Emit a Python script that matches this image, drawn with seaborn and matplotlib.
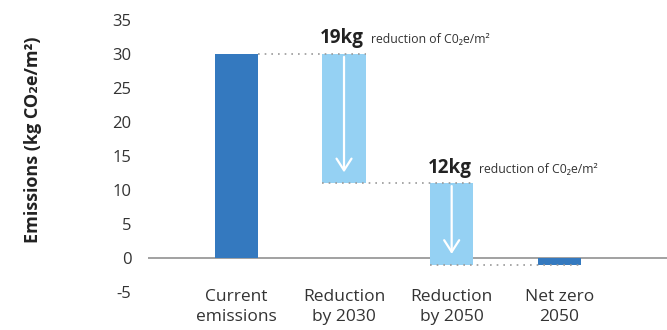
import matplotlib
matplotlib.use("Agg")
import matplotlib.pyplot as plt
import seaborn as sns

categories = ["Current\nemissions", "Reduction\nby 2030", "Reduction\nby 2050", "Net zero\n2050"]
starts = [0, 30, 11, 0]
ends = [30, 11, -1, -1]
reductions = [None, 19, 12, None]
yticks = [-5, 0, 5, 10, 15, 20, 25, 30, 35]

dark_blue = "#3479BF"
light_blue = "#95D1F3"
colors = [dark_blue, light_blue, light_blue, dark_blue]

sns.set_theme(style="white")
plt.rcParams["font.family"] = ["Open Sans", "DejaVu Sans"]

fig = plt.figure(figsize=(6.67, 3.30), dpi=100)
ax = fig.add_axes([0.222, 0.115, 0.778, 0.824])

bar_w = 0.4
sns.barplot(x=categories, y=ends, hue=categories, palette=colors, legend=False,
            width=bar_w, saturation=1, ax=ax, zorder=2)

# turn the plain bars into floating waterfall segments
for patch, s, e in zip(ax.patches, starts, ends):
    lo, hi = min(s, e), max(s, e)
    patch.set_y(lo)
    patch.set_height(hi - lo)
    patch.set_linewidth(0)

ax.axhline(0, color="#9a9a9a", lw=1.3, zorder=1)

# dotted connectors between consecutive levels
for i in range(len(categories) - 1):
    level = ends[i]
    x0 = i + bar_w / 2 if i == 0 else i - bar_w / 2
    ax.plot([x0, i + 1 + bar_w / 2], [level, level], ls=(0, (1, 3)),
            color="#9a9a9a", lw=1.2, zorder=3)

# arrows and labels for the reduction steps
for i, red in enumerate(reductions):
    if red is None:
        continue
    top, bottom = starts[i], ends[i]
    ax.annotate("", xy=(i, bottom + 1.2), xytext=(i, top),
                arrowprops=dict(arrowstyle="->,head_length=0.7,head_width=0.45",
                                color="white", lw=1.6), zorder=4)
    ax.text(i - bar_w / 2 - 0.02, top + 2.3, f"{red}kg", fontsize=13.5,
            fontweight="bold", color="#222222", va="center", ha="left")
    ax.text(i - bar_w / 2 + 0.45, top + 2.1, "reduction of C0₂e/m²", fontsize=8.8,
            color="#333333", va="center", ha="left")

ax.set_xlim(-0.82, 4.0)
ax.set_ylim(-5, 35)
ax.set_yticks(yticks)
ax.set_yticklabels([str(t) for t in yticks])
ax.set_xticks(range(len(categories)))
ax.set_xticklabels(categories, linespacing=1.35)
ax.tick_params(axis="y", length=0, labelsize=12, labelcolor="#333333", pad=12)
ax.tick_params(axis="x", length=0, labelsize=12.5, labelcolor="#333333", pad=-2)
for sp in ax.spines.values():
    sp.set_visible(False)

ax.set_ylabel("Emissions (kg CO₂e/m²)", fontsize=13, fontweight="bold",
              color="#222222")
ax.yaxis.set_label_coords(-0.205, 0.56)

fig.savefig("out.png", dpi=100)
